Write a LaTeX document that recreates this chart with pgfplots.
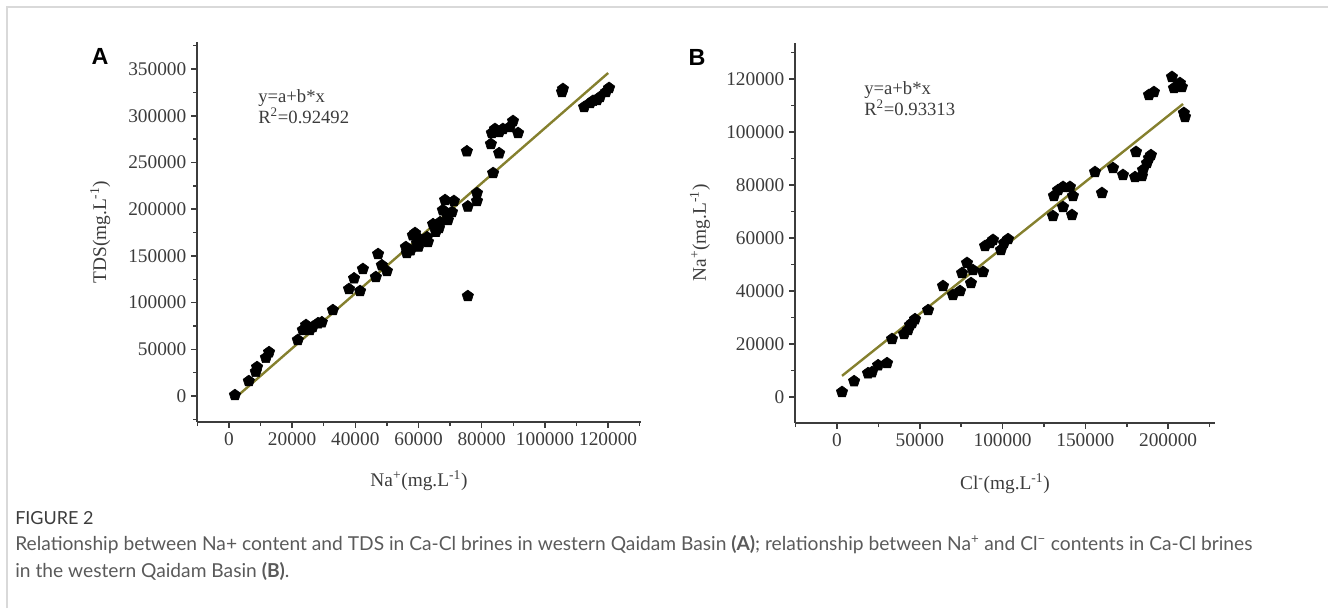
\documentclass[border=0pt]{standalone}
\usepackage{pgfplots}
\pgfplotsset{compat=1.18}
\usepackage{pgfplotstable}
\usepackage{fontspec}
\setmainfont{Liberation Serif}
\newfontfamily\capfont{Lato}
\newfontfamily\panelfont{Liberation Sans}

\definecolor{fitline}{HTML}{85802E}
\definecolor{axgray}{HTML}{3C3C3C}
\definecolor{capgray}{HTML}{5A5A5A}
\definecolor{framegray}{HTML}{D9D9D9}

% panel A: Na+ vs TDS
\pgfplotstableread{
x y
1900 1000
6300 16000
8500 26000
8900 31000
11700 41000
12700 47000
21800 60000
23400 70700
24400 76000
25600 70700
26500 74000
28200 78000
29400 79000
32900 92000
38000 114600
39600 126000
41500 112400
42400 136000
46500 127400
47200 152000
48400 140000
50000 133800
56000 159500
56300 153000
57500 156000
58200 172000
58900 174500
59500 163800
60000 160000
60400 168000
62700 170000
63000 165000
64600 184000
65500 176000
66500 180000
66800 186000
67700 199000
68400 209800
69000 193800
69300 188400
70600 197000
71200 208800
75300 262000
75600 203000
75600 107000
78500 217300
78500 208800
82900 269800
83200 281600
83600 238700
84200 285900
85500 282600
85500 260000
86700 285900
88900 288000
89900 294400
91500 281600
105400 325500
105700 328700
112400 309400
114300 313700
115200 316000
116500 317000
117400 320000
119300 325500
120300 329800
}\dataA

% panel B: Cl- vs Na+
\pgfplotstableread{
x y
3000 1900
10300 6000
18700 9000
21100 9400
24800 12000
30200 12800
33200 21900
40500 23800
42900 25300
44100 27200
45300 27900
47100 29400
55000 32800
64000 41900
70000 38500
74300 40000
75500 46800
78500 50600
80900 43000
82100 47900
88200 47200
89400 57000
92400 58100
94200 59300
99000 55500
100800 58100
103300 59600
130400 68300
131000 75900
133500 78100
136500 79300
140700 79300
142500 75900
136500 71700
141900 68700
155800 84900
160000 77000
166700 86400
172700 83800
180000 83000
184200 83400
184800 85700
187200 88300
188400 90200
189600 91300
180600 92500
188400 114000
191400 115100
202300 120800
203500 116600
207100 118500
208300 117000
209500 107200
210200 105700
}\dataB

\pgfplotsset{
  brine/.style={
    scale only axis,
    axis x line*=bottom,
    axis y line*=left,
    axis line style={axgray, line width=1.4pt, -},
    tick align=outside,
    major tick length=4.5pt,
    minor tick length=3pt,
    tick style={axgray, line width=1.1pt},
    tick label style={font=\fontsize{14.5}{16}\selectfont, text=axgray},
    label style={font=\fontsize{14.5}{16}\selectfont, text=axgray},
    scaled ticks=false,
    /pgf/number format/fixed,
    /pgf/number format/1000 sep={},
    /pgf/number format/assume math mode=true,
    clip=false,
  },
  dots/.style={only marks, mark=pentagon*, mark size=4.5pt, black},
  fit/.style={fitline, line width=1.8pt, no marks},
}

\begin{document}
\begin{tikzpicture}
\begin{scope}[x=0.75pt, y=-0.75pt]
  \path[use as bounding box] (0,0) rectangle (1328,608);
  \draw[framegray, line width=1.1pt] (7,608) -- (7,7) -- (1328,7);
  \node[font=\panelfont\bfseries\fontsize{17.5}{20}\selectfont] at (100,56) {A};
  \node[font=\panelfont\bfseries\fontsize{17.5}{20}\selectfont] at (697,57) {B};
  \node[anchor=base west, font=\fontsize{14}{13.5}\selectfont, text=axgray, align=left, inner sep=0pt]
    at (258,123) {y=a+b*x\\R\textsuperscript{2}=0.92492};
  \node[anchor=base west, font=\fontsize{14}{13.5}\selectfont, text=axgray, align=left, inner sep=0pt]
    at (864,115) {y=a+b*x\\R\textsuperscript{2}=0.93313};
  \node[anchor=base west, inner sep=0pt, font=\capfont\fontsize{13.5}{16}\selectfont, text=axgray]
    at (15,524) {FIGURE 2};
  \node[anchor=base west, inner sep=0pt, font=\capfont\fontsize{14.4}{16}\selectfont, text=capgray]
    at (15,550) {Relationship between Na+ content and TDS in Ca-Cl brines in western Qaidam Basin \textbf{(A)}; relationship between Na\textsuperscript{+} and Cl\textsuperscript{−} contents in Ca-Cl brines};
  \node[anchor=base west, inner sep=0pt, font=\capfont\fontsize{14.4}{16}\selectfont, text=capgray]
    at (15,577) {in the western Qaidam Basin \textbf{(B)}.};
\end{scope}

\begin{axis}[brine,
  at={(147.75pt,-316.5pt)}, anchor=south west,
  width=333pt, height=285pt,
  xmin=-10100, xmax=130400,
  ymin=-27800, ymax=379000,
  xtick={0,20000,...,120000},
  minor xtick={-10000,10000,30000,50000,70000,90000,110000,130000},
  ytick={0,50000,...,350000},
  minor ytick={-25000,25000,75000,125000,175000,225000,275000,325000,375000},
  xlabel={Na\textsuperscript{+}(mg.L\textsuperscript{-1})},
  ylabel={TDS(mg.L\textsuperscript{-1})},
  xlabel style={at={(axis description cs:0.5,-0.153)}, anchor=center},
  ylabel style={at={(axis description cs:-0.218,0.5)}, anchor=center},
]
  \addplot[fit] coordinates {(2000,-2000) (120000,345800)};
  \addplot[dots] table {\dataA};
\end{axis}

\begin{axis}[brine,
  at={(596.25pt,-317.25pt)}, anchor=south west,
  width=315pt, height=285pt,
  xmin=-25400, xmax=228300,
  ymin=-9800, ymax=133600,
  xtick={0,50000,...,200000},
  minor xtick={-25000,25000,75000,125000,175000,225000},
  ytick={0,20000,...,120000},
  minor ytick={10000,30000,50000,70000,90000,110000,130000},
  xlabel={Cl\textsuperscript{-}(mg.L\textsuperscript{-1})},
  ylabel={Na\textsuperscript{+}(mg.L\textsuperscript{-1})},
  xlabel style={at={(axis description cs:0.5,-0.16)}, anchor=center},
  ylabel style={at={(axis description cs:-0.226,0.5)}, anchor=center},
]
  \addplot[fit] coordinates {(3000,8000) (209000,110600)};
  \addplot[dots] table {\dataB};
\end{axis}
\end{tikzpicture}
\end{document}
